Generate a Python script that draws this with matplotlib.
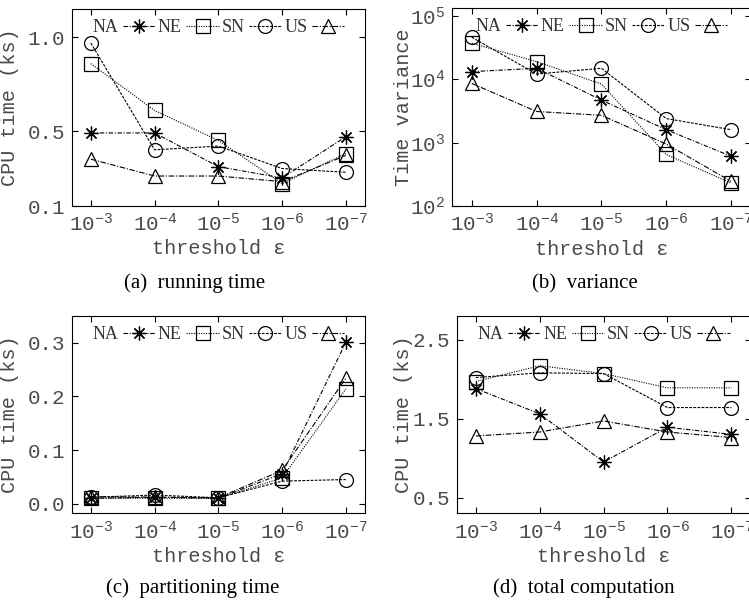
import matplotlib
matplotlib.use("Agg")
import matplotlib.pyplot as plt

# x axis: threshold epsilon
thresholds = ["$\\mathregular{10^{-3}}$", "$\\mathregular{10^{-4}}$", "$\\mathregular{10^{-5}}$",
              "$\\mathregular{10^{-6}}$", "$\\mathregular{10^{-7}}$"]
datasets = ["NA", "NE", "SN", "US"]

# (a) running time, ks
run_na = [0.49, 0.49, 0.31, 0.25, 0.47]
run_ne = [0.86, 0.61, 0.45, 0.22, 0.38]
run_sn = [0.97, 0.40, 0.42, 0.30, 0.28]
run_us = [0.35, 0.26, 0.26, 0.23, 0.37]

# (b) time variance
var_na = [13200, 14900, 4700, 1600, 610]
var_ne = [37000, 19000, 8400, 650, 230]
var_sn = [46000, 12100, 14900, 2400, 1600]
var_us = [8600, 3100, 2700, 950, 245]

# (c) partitioning time, ks
part_na = [0.010, 0.012, 0.010, 0.056, 0.301]
part_ne = [0.010, 0.010, 0.010, 0.048, 0.214]
part_sn = [0.012, 0.016, 0.011, 0.042, 0.045]
part_us = [0.013, 0.012, 0.011, 0.062, 0.234]

# (d) total computation, ks
tot_na = [1.88, 1.56, 0.95, 1.39, 1.30]
tot_ne = [1.97, 2.17, 2.07, 1.89, 1.89]
tot_sn = [2.02, 2.08, 2.07, 1.64, 1.64]
tot_us = [1.28, 1.33, 1.47, 1.33, 1.26]

markers = [(8, 2, 0), "s", "o", "^"]
dashes = [(0, (4, 1.5, 1, 1.5)), (0, (1, 1.2)), (0, (2.5, 1.2)), (0, (5, 1.5, 1, 1.5))]

MONO = "Liberation Mono"
SERIF = "Liberation Serif"
TXT = "#4a4a4a"

W, H = 749, 606
fig = plt.figure(figsize=(W / 100, H / 100), dpi=100)


def make_axes(left, right, top, bottom):
    return fig.add_axes([left / W, (H - bottom) / H, (right - left) / W, (bottom - top) / H])


def draw(ax, series, ylabel, yticks, yticklabels, ylim, ylab_x, log=False):
    x = list(range(len(thresholds)))
    for vals, name, m, ls in zip(series, datasets, markers, dashes):
        ax.plot(x, vals, color="black", lw=0.8, linestyle=ls, marker=m,
                markersize=10, markerfacecolor="none", markeredgecolor="black",
                markeredgewidth=0.9, label=name)
    if log:
        ax.set_yscale("log")
        ax.minorticks_off()
    ax.set_xlim(-0.3, 4.3)
    ax.set_ylim(*ylim)
    ax.set_xticks(x)
    ax.set_xticklabels(thresholds)
    ax.set_yticks(yticks)
    ax.set_yticklabels(yticklabels)
    ax.tick_params(direction="in", length=4, width=0.8, top=True, right=True,
                   labelsize=15, colors=TXT, pad=5)
    ax.tick_params(axis="both", color="black")
    for lab in ax.get_xticklabels() + ax.get_yticklabels():
        lab.set_family(MONO)
    ax.set_ylabel(ylabel, family=MONO, fontsize=14.5, color=TXT)
    ax.yaxis.set_label_coords(ylab_x, 0.5)
    ax.set_xlabel("threshold ε", family=MONO, fontsize=14.5, color=TXT)
    ax.xaxis.set_label_coords(0.5, -0.17)
    leg = ax.legend(loc="upper center", bbox_to_anchor=(0.5, 1.0), ncol=4, frameon=False,
                    markerfirst=False, prop={"family": SERIF, "size": 13},
                    handlelength=1.8, handletextpad=0.25, columnspacing=0.15,
                    borderaxespad=0.15)
    for t in leg.get_texts():
        t.set_color("#333333")


ax_a = make_axes(71.7, 365, 9.3, 206)
draw(ax_a, [run_na, run_ne, run_sn, run_us], "CPU time (ks)",
     [0.1, 0.5, 1.0], ["0.1", "0.5", "1.0"], (0.1, 1.15), -0.178)

ax_b = make_axes(452.3, 750.5, 8.3, 206)
draw(ax_b, [var_na, var_ne, var_sn, var_us], "Time variance",
     [1e2, 1e3, 1e4, 1e5],
     ["$\\mathregular{10^{2}}$", "$\\mathregular{10^{3}}$", "$\\mathregular{10^{4}}$", "$\\mathregular{10^{5}}$"],
     (100, 10 ** 5.12), -0.132, log=True)

ax_c = make_axes(71.7, 365, 316, 513.3)
draw(ax_c, [part_na, part_ne, part_sn, part_us], "CPU time (ks)",
     [0.0, 0.1, 0.2, 0.3], ["0.0", "0.1", "0.2", "0.3"], (-0.018, 0.35), -0.178)

ax_d = make_axes(456.7, 750.5, 316, 513.3)
draw(ax_d, [tot_na, tot_ne, tot_sn, tot_us], "CPU time (ks)",
     [0.5, 1.5, 2.5], ["0.5", "1.5", "2.5"], (0.3, 2.8), -0.149)

captions = [("(a)  running time", 195, 288), ("(b)  variance", 585, 288),
            ("(c)  partitioning time", 193, 593), ("(d)  total computation", 584, 593)]
for text, cx, cy in captions:
    fig.text(cx / W, 1 - cy / H, text, family=SERIF, fontsize=15, ha="center", va="baseline")

fig.savefig("out.png", dpi=100)
